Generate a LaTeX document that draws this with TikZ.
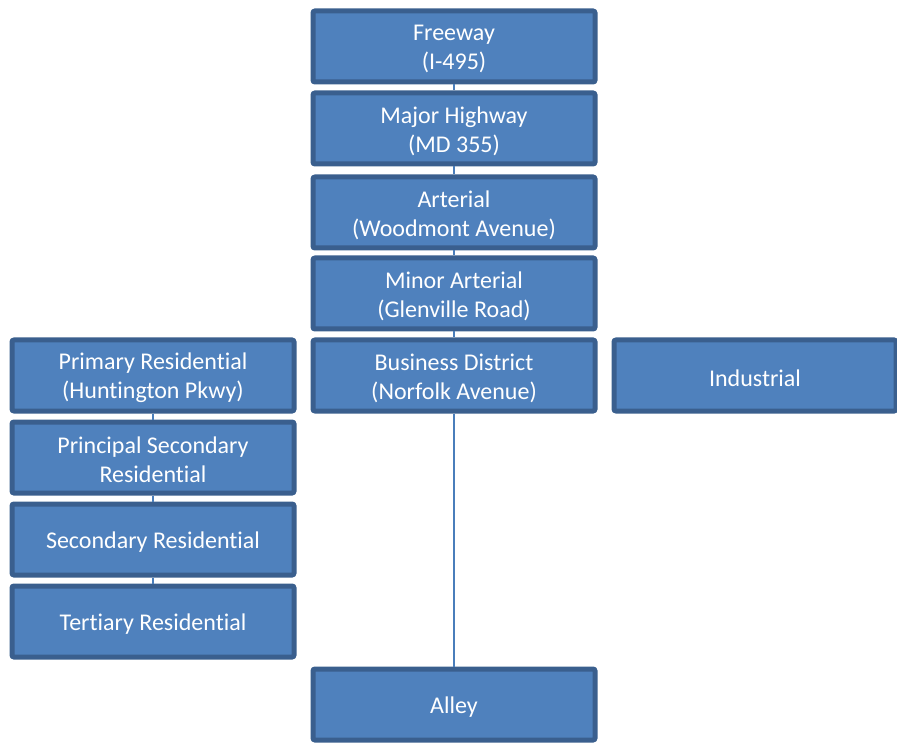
\documentclass[tikz,border=0pt]{standalone}
\usepackage{fontspec}
\setmainfont[Ligatures=CommonOff]{Carlito}
\definecolor{boxfill}{HTML}{4F81BD}
\definecolor{boxline}{HTML}{3A5F8E}
\definecolor{conn}{HTML}{4A7EBB}
\begin{document}
\begin{tikzpicture}[x=1pt,y=-1pt,
  roadbox/.style={draw=boxline,fill=boxfill,line width=5pt,rounded corners=2pt,
    minimum width=282pt,minimum height=71pt,inner sep=0pt},
  lbl/.style={yshift=-2.5pt,inner sep=0pt,text=white,
    font=\fontsize{24}{29}\selectfont,align=center},
  link/.style={draw=conn,line width=2pt}]
\useasboundingbox (0,0) rectangle (897,743);
\node[roadbox,label={[lbl]center:{Freeway\\(I-495)}}] (fw) at (454,46.5) {};
\node[roadbox,label={[lbl]center:{Major Highway\\(MD 355)}}] (mh) at (454,128.5) {};
\node[roadbox,label={[lbl]center:{Arterial\\(Woodmont Avenue)}}] (ar) at (454,212.5) {};
\node[roadbox,label={[lbl]center:{Minor Arterial\\(Glenville Road)}}] (ma) at (454,293.5) {};
\node[roadbox,label={[lbl]center:{Business District\\(Norfolk Avenue)}}] (bd) at (454,375.5) {};
\node[roadbox,label={[lbl]center:{Industrial}}] (ind) at (755,375.5) {};
\node[roadbox,label={[lbl]center:{Primary Residential\\(Huntington Pkwy)}}] (pr) at (153,375.5) {};
\node[roadbox,label={[lbl]center:{Principal Secondary\\Residential}}] (ps) at (153,457.5) {};
\node[roadbox,label={[lbl]center:{Secondary Residential}}] (sr) at (153,539.5) {};
\node[roadbox,label={[lbl]center:{Tertiary Residential}}] (tr) at (153,621.5) {};
\node[roadbox,label={[lbl]center:{Alley}}] (al) at (454,704.5) {};
\draw[link] (fw.south) -- (mh.north);
\draw[link] (mh.south) -- (ar.north);
\draw[link] (ar.south) -- (ma.north);
\draw[link] (ma.south) -- (bd.north);
\draw[link] (bd.south) -- (al.north);
\draw[link] (pr.south) -- (ps.north);
\draw[link] (ps.south) -- (sr.north);
\draw[link] (sr.south) -- (tr.north);
\end{tikzpicture}
\end{document}
